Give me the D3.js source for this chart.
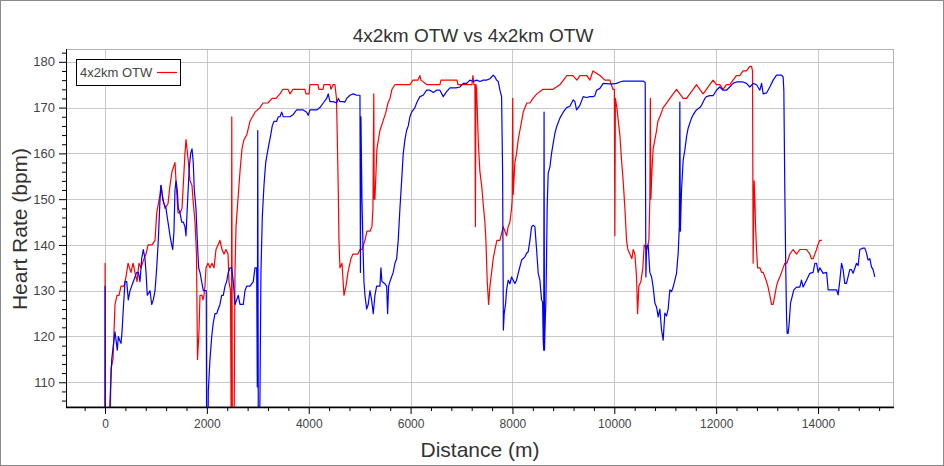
<!DOCTYPE html>
<html><head><meta charset="utf-8">
<script src="https://cdn.jsdelivr.net/npm/d3@7"></script>
<style>
html,body{margin:0;padding:0;background:#fff;}
svg{display:block;font-family:"Liberation Sans",Arial,sans-serif;}
</style></head>
<body><svg id="chart" width="944" height="466"></svg>
<script>
const titleText = "4x2km OTW vs 4x2km OTW";
const xLabel = "Distance (m)";
const yLabel = "Heart Rate (bpm)";
const legendLabel = "4x2km OTW";
const xTickValues = [0,2000,4000,6000,8000,10000,12000,14000];
const yTickValues = [110,120,130,140,150,160,170,180];

const redDist = [0,2,6,98,118,157,196,236,275,314,373,412,452,510,550,589,628,667,707,766,805,844,923,982,1015,1080,1099,1139,1178,1237,1276,1315,1374,1394,1433,1472,1512,1570,1590,1629,1669,1708,1727,1767,1796,1816,1845,1865,1904,1924,1943,1963,1983,2022,2061,2100,2140,2179,2218,2257,2297,2336,2375,2415,2434,2464,2480,2489,2501,2532,2552,2572,2611,2650,2689,2729,2782,2846,2945,3043,3102,3200,3279,3357,3435,3494,3592,3632,3690,3828,3926,3946,4005,4024,4181,4201,4280,4299,4417,4437,4476,4515,4545,4560,4580,4594,4613,4653,4692,4731,4770,4829,4868,4966,5006,5045,5104,5143,5202,5241,5261,5277,5286,5300,5339,5398,5457,5516,5555,5595,5634,5693,5791,5889,5987,6046,6144,6183,6203,6321,6576,6596,6772,6910,6930,7067,7204,7224,7244,7263,7273,7283,7297,7328,7361,7395,7426,7459,7479,7505,7532,7558,7591,7622,7656,7695,7754,7819,7852,7885,7917,7950,7983,7995,8005,8015,8048,8081,8113,8146,8180,8211,8245,8284,8343,8402,8480,8598,8794,8932,9069,9128,9187,9266,9324,9462,9521,9580,9717,9815,9913,9972,10001,10011,10021,10050,10109,10139,10174,10208,10241,10266,10306,10345,10371,10404,10437,10457,10482,10522,10561,10587,10640,10679,10698,10708,10718,10738,10763,10797,10830,10855,10894,10928,10959,11026,11091,11156,11222,11287,11352,11418,11483,11548,11613,11678,11744,11809,11874,11940,12005,12070,12136,12201,12266,12332,12397,12462,12529,12596,12661,12694,12714,12726,12746,12760,12774,12793,12813,12858,12892,12923,12989,13015,13054,13087,13119,13152,13185,13211,13250,13284,13315,13348,13388,13447,13511,13578,13643,13708,13774,13839,13872,13904,13937,13971,13996,14036,14075];
const redHR = [95,136,95,98,113,115,127,129,129,131,131,133,136,134,136,134,132,136,135,137,138,140,140,141,147,151,153,150,148,149,153,156,158,154,147,147,148,160,163,159,154,153,150,145,138,115,121,129,129,128,129,131,135,136,135,136,135,139,140,141,139,138,139,138,132,130,95,168,95,95,134,144,150,156,161,163,164,167,169,170,171,171,172,172,173,174,174,173,174,174,174,173,173,175,175,174,174,175,175,174,175,175,172,164,152,141,135,136,129,131,134,137,138,138,139,139,141,143,143,144,148,173,150,150,161,165,167,169,171,172,174,175,175,175,175,176,176,177,176,175,175,176,176,176,175,175,175,177,175,175,144,175,174,163,156,153,149,145,141,132,127,131,134,137,139,141,141,144,143,142,144,145,148,150,172,151,158,160,163,165,167,169,170,171,171,172,173,174,174,175,177,177,177,176,177,177,176,178,177,176,176,174,174,142,172,170,164,159,154,148,141,139,138,137,139,138,133,125,131,132,135,140,139,141,150,172,150,156,161,163,165,167,168,169,170,171,172,173,174,173,172,172,173,174,175,174,173,174,175,176,175,175,174,175,175,176,177,177,178,178,179,179,178,136,154,150,144,139,135,135,134,134,132,131,129,127,127,129,131,132,133,134,135,136,136,138,139,138,139,139,139,138,137,137,138,139,140,141,141];

const blueDist = [0,2,6,79,98,132,163,196,230,241,261,294,314,334,359,393,426,457,491,524,556,622,654,687,720,752,785,805,830,883,917,948,982,1015,1046,1080,1099,1133,1158,1197,1223,1250,1276,1309,1329,1354,1374,1394,1419,1439,1472,1506,1537,1570,1590,1623,1655,1682,1708,1733,1753,1786,1812,1839,1865,1898,1930,1988,1996,2022,2028,2061,2095,2126,2159,2193,2224,2257,2291,2322,2356,2389,2420,2454,2487,2519,2552,2585,2617,2650,2715,2748,2782,2846,2911,2945,2978,2990,2999,3011,3033,3043,3062,3088,3121,3155,3186,3219,3253,3284,3317,3370,3402,3435,3469,3500,3567,3632,3696,3763,3828,3893,3959,3991,4024,4089,4156,4220,4285,4352,4383,4417,4482,4548,4580,4613,4678,4711,4745,4809,4874,4941,4992,5006,5015,5025,5045,5065,5084,5104,5137,5168,5202,5235,5267,5300,5333,5398,5418,5437,5496,5530,5549,5569,5595,5659,5693,5726,5757,5791,5824,5856,5889,5922,5954,5987,6020,6052,6085,6118,6150,6183,6248,6315,6380,6445,6511,6576,6641,6707,6772,6890,6969,7034,7100,7165,7230,7297,7361,7426,7492,7558,7622,7656,7689,7721,7754,7787,7807,7822,7838,7866,7885,7917,7950,7983,8015,8048,8081,8113,8146,8180,8245,8278,8309,8343,8376,8408,8441,8474,8506,8539,8572,8592,8604,8614,8621,8629,8637,8657,8670,8682,8702,8735,8768,8800,8834,8867,8932,8997,9063,9128,9193,9226,9259,9291,9324,9389,9455,9521,9585,9619,9652,9717,9782,9913,9978,10044,10109,10174,10306,10437,10567,10607,10620,10634,10665,10698,10732,10763,10797,10830,10861,10894,10928,10959,10993,11026,11057,11091,11124,11156,11189,11222,11254,11277,11287,11297,11320,11352,11385,11418,11450,11483,11516,11548,11581,11613,11678,11713,11744,11778,11809,11874,11940,12005,12070,12136,12201,12266,12332,12397,12462,12529,12596,12661,12726,12793,12858,12892,12923,12989,13054,13119,13185,13250,13284,13315,13329,13348,13368,13382,13394,13413,13433,13460,13492,13525,13578,13643,13676,13708,13774,13839,13904,13937,13971,14003,14036,14101,14168,14199,14297,14364,14395,14429,14462,14492,14526,14559,14624,14658,14689,14756,14788,14821,14885,14919,14952,14983,15017,15050,15081,15115];
const blueHR = [95,131,95,95,106,115,118,121,118,117,120,119,118.5,121,126,132,132,128,130,131,132,134,134,132,137,139,137,134,129,130,127,128,130,135,141,150,153,150,149,148,146,144,142,140,139,143,152,154,152,148,147,145,145,144,142,150,157,160,161,158,152,148,141,135,134,132,130,130,95,95,108,115,120,123,125,125,126,127,129,129,131,132,134,135,135,132,127,128,129,127,127,130,131,131,132,135,135,109,165,95,95,108,134,146,153,158,160,162,164,166,167,167,168,168,169,168,168,168,168.5,169.5,169.5,169.5,169,168.3,169.5,169.5,169.5,170,171,172,173,171.3,171.3,171,172,171.3,171.3,171.2,172,172.7,173,172.7,172.7,172.7,134,168,150,140,132,129,126,127,130,128,125,129,131,131,135,132,131.5,131,125,131,132,134,136,137,141,148,154,160,163,165,166,168,169,169.5,170,171,171.7,172.4,172.7,173.8,173.8,173.3,173.8,173.8,172.4,173.5,174.3,174.3,174.5,175.3,175.3,176,175.7,176,175.7,176,176,176.3,177.1,176.7,176,175.7,173.8,172.4,155.7,121.4,125,127.2,130.2,132.3,131.5,133,132.3,131.6,132.3,133.8,135.2,136.7,137.4,138.2,138.5,141,144,144.3,144,139,133.8,132.3,128,127.5,119.2,117,169,117,120.7,128,137.4,148.3,155.7,157,160,162.2,164.4,165.8,167.7,169,170,170.3,171.7,171.3,169.5,170,170.5,172.4,172.2,172.4,172.4,172.6,173.8,174.2,175.3,175.2,175.2,175.3,175.6,175.8,175.8,175.8,175.8,175.5,133,139.7,140,134,133,130.8,127.3,126.4,124.3,126,121.4,119.2,125.1,124.5,126,130.2,129.8,130.8,132.3,133.8,138.2,144,171.2,143,152,158.5,160.7,163.6,165.5,166.6,167.7,168.4,169,169.5,170,170.5,171.2,172,172.4,172.6,172.6,173.8,174.5,173.8,173.8,174.5,175.3,175.6,175.6,175.6,175.3,174.5,175.3,175,173.8,175.3,173,173.2,174.5,176,177.1,177.1,177.1,176.7,173.8,152,133.8,124.3,120.7,120.7,122.8,127.3,128.7,130.2,130.8,130.8,132.3,130.8,132.3,133.8,134,136,136,134,135,133.8,134,130.2,130.2,130.2,129.1,132.3,136,134.6,131.6,131.6,134.6,134.6,133.8,136,135.5,139,139.3,139.3,138.2,136.7,137,135.2,134.6,133];

const W = 944, H = 466;
const M = {left: 66, right: 894, top: 49, bottom: 407};
const svg = d3.select("#chart");
svg.append("rect").attr("width", W).attr("height", H).attr("fill", "#fff");
svg.append("rect").attr("x", 0.5).attr("y", 0.5).attr("width", W - 1).attr("height", H - 1)
  .attr("fill", "none").attr("stroke", "#8a8a8a").attr("stroke-width", 1);

const x = d3.scaleLinear().domain([-766, 15492]).range([M.left, M.right]);
const y = d3.scaleLinear().domain([104.6, 182.8]).range([M.bottom, M.top]);

// grid
const grid = svg.append("g");
grid.selectAll("line.v").data(xTickValues).enter().append("line")
  .attr("x1", d => Math.round(x(d)) + 0.5).attr("x2", d => Math.round(x(d)) + 0.5)
  .attr("y1", M.top).attr("y2", M.bottom).attr("stroke", "#c8c8c8").attr("stroke-width", 1);
grid.selectAll("line.h").data(yTickValues).enter().append("line")
  .attr("y1", d => Math.round(y(d)) + 0.5).attr("y2", d => Math.round(y(d)) + 0.5)
  .attr("x1", M.left).attr("x2", M.right).attr("stroke", "#c8c8c8").attr("stroke-width", 1);

// frame top/right
svg.append("rect").attr("x", M.left + 0.5).attr("y", M.top + 0.5)
  .attr("width", M.right - M.left - 1).attr("height", M.bottom - M.top - 1)
  .attr("fill", "none").attr("stroke", "#b4b4b4").attr("stroke-width", 1);

// lines
svg.append("clipPath").attr("id", "clip").append("rect")
  .attr("x", M.left).attr("y", M.top).attr("width", M.right - M.left).attr("height", M.bottom - M.top);
const line = d3.line().x(d => x(d[0])).y(d => y(d[1]));
const redData = redDist.map((d, i) => [d, redHR[i]]);
const blueData = blueDist.map((d, i) => [d, blueHR[i]]);
const plot = svg.append("g").attr("clip-path", "url(#clip)");
plot.append("path").datum(redData).attr("d", line).attr("fill", "none")
  .attr("stroke", "#ff0000").attr("stroke-width", 1.2).attr("stroke-linejoin", "round");
plot.append("path").datum(blueData).attr("d", line).attr("fill", "none")
  .attr("stroke", "#0000ff").attr("stroke-width", 1.2).attr("stroke-linejoin", "round");

// axes
const xMinor = d3.range(-400, 15400, 400).filter(v => v % 2000 !== 0);
const yMinor = d3.range(106, 183, 2).filter(v => v % 10 !== 0);
const gx = svg.append("g").attr("transform", `translate(0,${M.bottom})`)
  .call(d3.axisBottom(x).tickValues(xTickValues).tickSize(7).tickPadding(5).tickFormat(d3.format("d")));
const gxm = svg.append("g").attr("transform", `translate(0,${M.bottom})`)
  .call(d3.axisBottom(x).tickValues(xMinor).tickSize(4).tickFormat(""));
const gy = svg.append("g").attr("transform", `translate(${M.left},0)`)
  .call(d3.axisLeft(y).tickValues(yTickValues).tickSize(7).tickPadding(4));
const gym = svg.append("g").attr("transform", `translate(${M.left},0)`)
  .call(d3.axisLeft(y).tickValues(yMinor).tickSize(4).tickFormat(""));
[gx, gxm, gy, gym].forEach(g => {
  g.select(".domain").remove();
  g.selectAll("line").attr("stroke", "#000");
  g.selectAll("text").attr("fill", "#444").style("font-size", "12px")
    .style("font-family", '"Liberation Sans Narrow","Liberation Sans",Arial,sans-serif');
});
gy.selectAll("text").style("font-size", "13px").style("font-family", '"Liberation Sans",Arial,sans-serif');
svg.append("line").attr("x1", M.left).attr("x2", M.right).attr("y1", M.bottom + 0.5).attr("y2", M.bottom + 0.5)
  .attr("stroke", "#000").attr("stroke-width", 1.6);
svg.append("line").attr("x1", M.left + 0.5).attr("x2", M.left + 0.5).attr("y1", M.top).attr("y2", M.bottom)
  .attr("stroke", "#000").attr("stroke-width", 1);

// titles
svg.append("text").attr("x", 473).attr("y", 42).attr("text-anchor", "middle")
  .style("font-size", "19px").attr("fill", "#333").text(titleText);
svg.append("text").attr("x", 480).attr("y", 457).attr("text-anchor", "middle")
  .style("font-size", "21px").attr("fill", "#333").text(xLabel);
svg.append("text").attr("transform", "translate(27,229) rotate(-90)").attr("text-anchor", "middle")
  .style("font-size", "21px").attr("fill", "#333").text(yLabel);

// legend
svg.append("rect").attr("x", 76.5).attr("y", 59.5).attr("width", 104).attr("height", 26)
  .attr("fill", "#fff").attr("stroke", "#000").attr("stroke-width", 1);
svg.append("text").attr("x", 80).attr("y", 77).style("font-size", "13px").attr("fill", "#444").text(legendLabel);
svg.append("line").attr("x1", 157).attr("x2", 177).attr("y1", 72.5).attr("y2", 72.5)
  .attr("stroke", "#ff0000").attr("stroke-width", 1.2);
</script></body></html>
